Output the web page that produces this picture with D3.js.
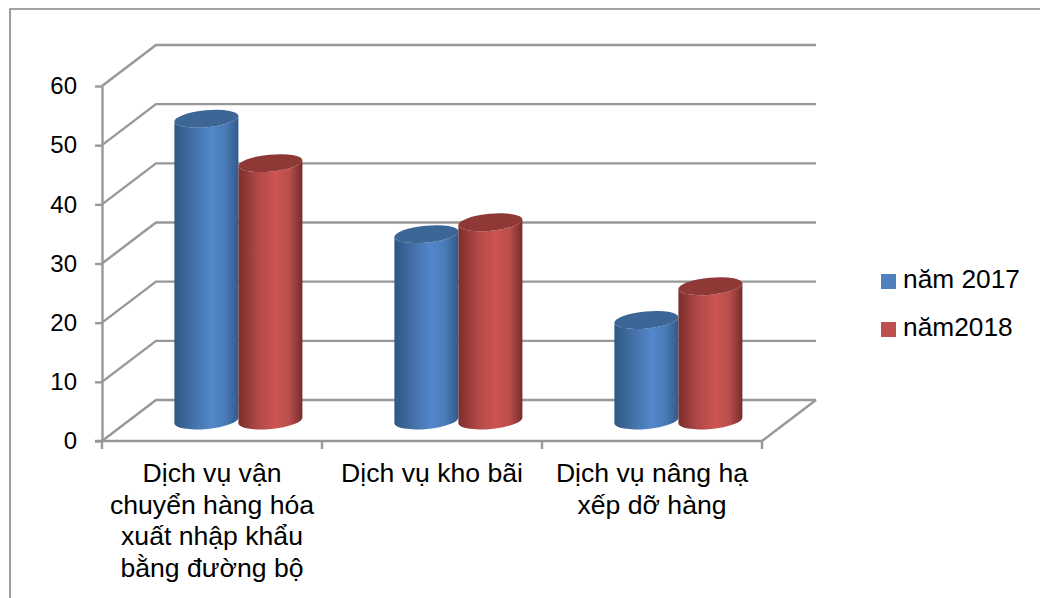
<!DOCTYPE html>
<html>
<head>
<meta charset="utf-8">
<script src="https://cdn.jsdelivr.net/npm/d3@7/dist/d3.min.js"></script>
<style>
  html, body { margin: 0; padding: 0; background: #fff; }
  svg { display: block; font-family: "Liberation Sans", Arial, sans-serif; }
</style>
</head>
<body>
<div id="container"></div>
<script>
const categories = [
  "Dịch vụ vận chuyển hàng hóa xuất nhập khẩu bằng đường bộ",
  "Dịch vụ kho bãi",
  "Dịch vụ nâng hạ xếp dỡ hàng"
];
const categoryLines = [
  ["Dịch vụ vận", "chuyển hàng hóa", "xuất nhập khẩu", "bằng đường bộ"],
  ["Dịch vụ kho bãi"],
  ["Dịch vụ nâng hạ", "xếp dỡ hàng"]
];
const seriesNames = ["năm 2017", "năm2018"];
const values2017 = [51, 31.5, 17];
const values2018 = [43.5, 33.5, 22.7];
const yTicks = [0, 10, 20, 30, 40, 50, 60];

const w = 1040;
const h = 598;
const depthX = 54;
const depthY = 41;
const barWidth = 64;
const ry = 8.5;
const tilt = 3;

const colors = [
  { id: "blue", top: "#3c6696", swatch: "#4f81bd", stops: ["#2f5684", "#4472a8", "#5287cb", "#4a7bb6", "#2f5a8c"] },
  { id: "red", top: "#8f3937", swatch: "#c0504d", stops: ["#7c2e2c", "#b04846", "#cc5552", "#b84d4a", "#772d2b"] }
];

const svg = d3.select("#container").append("svg").attr("width", w).attr("height", h);

// outer frame, cut off by the picture on the right and bottom
svg.append("path")
  .attr("d", d3.line()([[10, h], [10, 9], [w, 9]]))
  .attr("fill", "none")
  .attr("stroke", "#858585")
  .attr("stroke-width", 1.6);

const xScale = d3.scaleBand().domain(categories).range([102, 762]);
const yScale = d3.scaleLinear().domain([0, 60]).range([441, 86]);
const seriesScale = d3.scaleBand().domain(seriesNames).range([-barWidth, barWidth]);

const defs = svg.append("defs");
colors.forEach((c) => {
  const grad = defs.append("linearGradient").attr("id", "grad-" + c.id);
  grad.selectAll("stop")
    .data(c.stops)
    .enter()
    .append("stop")
    .attr("offset", (d, i) => [0, 0.3, 0.58, 0.8, 1][i])
    .attr("stop-color", (d) => d);
});

// back wall + side wall gridlines
const gridColor = "#989898";
const gridWidth = 2.4;
svg.append("g")
  .selectAll("path")
  .data(yTicks)
  .enter()
  .append("path")
  .attr("d", (d) => d3.line()([
    [102, yScale(d)],
    [102 + depthX, yScale(d) - depthY],
    [816, yScale(d) - depthY]
  ]))
  .attr("fill", "none")
  .attr("stroke", gridColor)
  .attr("stroke-width", gridWidth);

// floor right edge
svg.append("path")
  .attr("d", d3.line()([[762, yScale(0)], [816, yScale(0) - depthY]]))
  .attr("fill", "none")
  .attr("stroke", gridColor)
  .attr("stroke-width", gridWidth);

const yAxis = svg.append("g")
  .attr("transform", "translate(102,0)")
  .call(d3.axisLeft(yScale).tickValues(yTicks).tickSize(7).tickPadding(18).tickSizeOuter(0));
yAxis.selectAll("path, line").attr("stroke", gridColor).attr("stroke-width", gridWidth);
yAxis.selectAll("text").attr("font-size", 24).attr("fill", "#000").attr("font-family", "Liberation Sans");

const xEdges = categories.map((c) => xScale(c)).concat([762]);
svg.append("g")
  .selectAll("line")
  .data(xEdges)
  .enter()
  .append("line")
  .attr("x1", (d) => d)
  .attr("x2", (d) => d)
  .attr("y1", yScale(0))
  .attr("y2", yScale(0) + 8)
  .attr("stroke", gridColor)
  .attr("stroke-width", gridWidth);
svg.append("line")
  .attr("x1", 95).attr("x2", 762)
  .attr("y1", yScale(0)).attr("y2", yScale(0))
  .attr("stroke", gridColor)
  .attr("stroke-width", gridWidth);

// cylinders sit half way into the depth of the floor
function cylinder(cx, v) {
  const r = barWidth / 2;
  const yt = yScale(v) - depthY / 2;
  const yb = yScale(0) - depthY / 2;
  const rot = (-Math.atan2(tilt, r) * 180) / Math.PI;
  const rx = Math.hypot(r, tilt);
  return {
    body: `M${cx - r},${yt + tilt} L${cx - r},${yb + tilt} A${rx},${ry} ${rot} 0 0 ${cx + r},${yb - tilt} L${cx + r},${yt - tilt} A${rx},${ry} ${rot} 0 1 ${cx - r},${yt + tilt} Z`,
    cx: cx,
    cy: yt,
    rx: rx,
    rot: rot
  };
}

[values2017, values2018].forEach((vals, s) => {
  const g = svg.append("g");
  const shapes = vals.map((v, i) =>
    cylinder(xScale(categories[i]) + xScale.bandwidth() / 2 + depthX / 2 - 0.6 + seriesScale(seriesNames[s]) + barWidth / 2, v)
  );
  g.selectAll("path")
    .data(shapes)
    .enter()
    .append("path")
    .attr("d", (d) => d.body)
    .attr("fill", `url(#grad-${colors[s].id})`);
  g.selectAll("ellipse")
    .data(shapes)
    .enter()
    .append("ellipse")
    .attr("rx", (d) => d.rx)
    .attr("ry", ry)
    .attr("transform", (d) => `translate(${d.cx},${d.cy}) rotate(${d.rot})`)
    .attr("fill", colors[s].top);
});

// category labels
const labels = svg.append("g");
categoryLines.forEach((lines, i) => {
  labels.append("text")
    .attr("text-anchor", "middle")
    .attr("font-size", 26.6)
    .attr("fill", "#000")
    .selectAll("tspan")
    .data(lines)
    .enter()
    .append("tspan")
    .attr("x", xScale(categories[i]) + xScale.bandwidth() / 2)
    .attr("y", (d, j) => 482 + j * 31.5)
    .text((d) => d);
});

// legend
const legendY = d3.scalePoint().domain(seriesNames).range([271, 319]);
const legend = svg.append("g")
  .selectAll("g")
  .data(seriesNames)
  .enter()
  .append("g")
  .attr("transform", (d) => `translate(881,${legendY(d)})`);
legend.append("rect")
  .attr("x", 0).attr("y", 3)
  .attr("width", 15).attr("height", 15)
  .attr("fill", (d, i) => colors[i].swatch);
legend.append("text")
  .attr("x", 22).attr("y", 17)
  .attr("font-size", 26.3)
  .attr("fill", "#000")
  .text((d) => d);
</script>
</body>
</html>
